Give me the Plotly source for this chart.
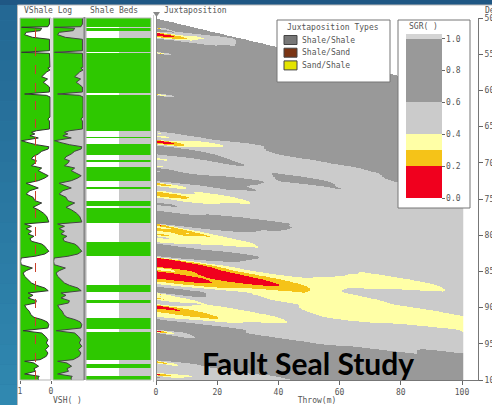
import numpy as np
import plotly.graph_objects as go

W, H = 492, 405

# ---- well log: depth (m) and shale volume fraction ----
depth = [500.0, 508.3, 512.0, 512.8, 514.2, 517.5, 519.8, 523.1, 526.7, 529.4,
         545.2, 547.4, 548.8, 567.7, 569.1, 571.8, 574.6, 581.1, 584.3, 588.8,
         592.1, 595.3, 602.2, 605.0, 606.8, 609.1, 636.7, 639.5, 642.3, 653.3,
         655.7, 657.9, 660.2, 662.6, 665.7, 669.5, 672.2, 675.0, 677.8, 680.9,
         684.1, 687.8, 691.6, 694.7, 697.1, 700.7, 704.0, 707.2, 710.9, 714.5,
         717.8, 721.0, 724.7, 728.3, 731.6, 734.8, 738.5, 743.1, 747.6, 752.3,
         755.5, 758.7, 761.5, 764.8, 769.3, 773.9, 778.6, 781.8, 784.5, 787.7,
         791.0, 794.6, 798.3, 801.5, 804.8, 808.4, 812.2, 815.3, 818.6, 822.2,
         826.0, 829.1, 831.5, 836.0, 840.7, 845.3, 849.0, 852.2, 856.8, 861.5,
         866.0, 869.2, 872.9, 876.7, 879.8, 883.0, 886.7, 890.5, 893.6, 896.8,
         900.5, 905.1, 909.8, 913.4, 916.7, 919.9, 923.6, 928.2, 931.9, 935.1,
         939.6, 944.3, 948.9, 953.4, 958.1, 962.7, 967.2, 971.9, 974.1, 976.5,
         981.0, 984.4, 988.0, 991.7, 994.9, 997.2, 1000.0]
vsh = [0.95, 0.95, 0.90, 0.05, 0.70, 0.65, 0.20, 0.15, 0.40, 0.95,
       0.95, 0.05, 0.95, 0.97, 0.90, 0.97, 0.86, 0.70, 0.89, 0.75,
       0.86, 0.95, 0.95, 0.15, 0.85, 0.97, 0.97, 0.90, 0.95, 0.95,
       0.53, 0.37, 0.48, 0.32, 0.59, 0.05, 0.26, 0.53, 0.93, 0.91,
       0.70, 0.59, 0.42, 0.37, 0.53, 0.48, 0.37, 0.70, 0.59, 0.75,
       0.91, 0.80, 0.59, 0.20, 0.42, 0.59, 0.32, 0.20, 0.42, 0.48,
       0.70, 0.53, 0.42, 0.59, 0.75, 0.86, 0.91, 0.93, 0.15, 0.37,
       0.20, 0.37, 0.26, 0.45, 0.32, 0.37, 0.70, 0.80, 0.86, 0.93,
       0.80, 0.48, 0.04, 0.02, 0.04, 0.40, 0.20, 0.10, 0.15, 0.26,
       0.37, 0.53, 0.80, 0.91, 0.26, 0.42, 0.26, 0.53, 0.50, 0.15,
       0.20, 0.30, 0.35, 0.45, 0.72, 0.88, 0.93, 0.90, 0.10, 0.70,
       0.82, 0.90, 0.85, 0.93, 0.82, 0.90, 0.85, 0.65, 0.15, 0.45,
       0.60, 0.45, 0.50, 0.15, 0.62, 0.58, 0.60]

vsh_cutoff = 0.5
throw_max = 100.0

# SGR classes shown in the colour bar (last band sits just above 1.0)
sgr_bounds = [0.0, 0.2, 0.3, 0.4, 0.6, 1.0, 1.03]
sgr_colors = ['#f0001e', '#f5c318', '#ffffa6', '#cbcbcb', '#999999', '#d4d4d4']
sgr_ticks = [0.0, 0.2, 0.4, 0.6, 0.8, 1.0]

juxt_types = ['Shale/Shale', 'Shale/Sand', 'Sand/Shale']
juxt_colors = ['#777777', '#7a3414', '#e4e400']

depth_ticks = list(range(500, 1001, 50))
throw_ticks = [0, 20, 40, 60, 80, 100]

GREEN = '#2ec800'
MONO = 'DejaVu Sans Mono'
TXT = '#555555'


def px(x):
    return x / W


def py(y):
    return 1 - y / H


# ---- shale gouge ratio: mean Vsh over the throw window above each fault depth ----
depth_a = np.array(depth)
vsh_a = np.array(vsh)
dz = 0.25
zf = np.arange(depth_a[0], depth_a[-1] + dz / 2, dz)
vf = np.interp(zf, depth_a, vsh_a)
cum = np.concatenate([[0.0], np.cumsum((vf[1:] + vf[:-1]) / 2 * dz)])

z_rows = np.linspace(depth_a[0], depth_a[-1], 363)
throws = np.arange(0.0, throw_max + 0.01, 0.5)
Z, T = np.meshgrid(z_rows, throws, indexing='ij')
top = Z - T
with np.errstate(invalid='ignore', divide='ignore'):
    sgr = (np.interp(Z, zf, cum) - np.interp(top, zf, cum)) / T
sgr[:, 0] = np.interp(z_rows, zf, vf)
sgr[top < depth_a[0] - 1e-9] = np.nan

zmax = sgr_bounds[-1]
sgr_scale = []
for i, c in enumerate(sgr_colors):
    sgr_scale += [[sgr_bounds[i] / zmax, c], [sgr_bounds[i + 1] / zmax, c]]

# ---- shale beds: sand where Vsh drops under the cutoff ----
is_sand = vf < vsh_cutoff
beds = np.stack([np.where(is_sand, 1, 0), np.where(is_sand, 2, 0)], axis=1)

axfont = dict(family=MONO, size=8, color=TXT)

fig = go.Figure()

fig.add_trace(go.Heatmap(
    x=throws, y=z_rows, z=sgr, xaxis='x', yaxis='y',
    colorscale=sgr_scale, zmin=0, zmax=zmax, zsmooth=False,
    hoverongaps=False,
    colorbar=dict(
        tickvals=sgr_ticks, ticktext=[f'{v:.1f}' for v in sgr_ticks],
        ticks='outside', ticklen=3, tickcolor='#666', tickfont=axfont,
        thickness=36, thicknessmode='pixels',
        len=164, lenmode='pixels',
        x=px(406), xanchor='left', y=py(34), yanchor='top',
        xpad=0, ypad=0,
        bgcolor='rgba(0,0,0,0)', borderwidth=0, outlinewidth=0,
    ),
))

fig.add_trace(go.Scatter(
    x=[1 - v for v in vsh], y=depth, xaxis='x2', yaxis='y', mode='lines',
    line=dict(color='#333333', width=1), fill='tozerox', fillcolor='white',
    showlegend=False, hoverinfo='skip'))

fig.add_trace(go.Scatter(
    x=vsh, y=depth, xaxis='x3', yaxis='y', mode='lines',
    line=dict(color='#444444', width=1), fill='tozerox', fillcolor=GREEN,
    showlegend=False, hoverinfo='skip'))

fig.add_trace(go.Heatmap(
    x=[0, 1], y=zf, z=beds, xaxis='x4', yaxis='y',
    colorscale=[[0, GREEN], [0.5, 'white'], [1, '#c8c8c8']], zmin=0, zmax=2,
    showscale=False, zsmooth=False, hoverinfo='skip'))

ydom = [py(380), py(18)]

fig.update_layout(
    width=W, height=H, margin=dict(l=0, r=0, t=0, b=0, pad=0, autoexpand=False),
    paper_bgcolor='#2a78a2', plot_bgcolor='rgba(0,0,0,0)', showlegend=False,
    xaxis=dict(domain=[px(156), px(478)], range=[0, 105.23], anchor='y', automargin=False,
               tickvals=throw_ticks, ticks='outside', ticklen=4, tickcolor='#666',
               showline=True, linecolor='#777', linewidth=1, showgrid=False, zeroline=False,
               tickfont=axfont, title=dict(text='Throw(m)', font=axfont, standoff=2)),
    yaxis=dict(domain=ydom, range=[1000, 500], anchor='x', side='right', automargin=False,
               tickvals=depth_ticks, ticks='outside', ticklen=4, tickcolor='#666',
               showline=True, linecolor='#777', linewidth=1, showgrid=False, zeroline=False,
               tickfont=axfont),
    xaxis2=dict(domain=[px(20), px(51)], range=[1, 0], anchor='y', tickvals=[1, 0],
                automargin=False, ticks='outside', ticklen=3, tickcolor='#666', showline=False,
                showgrid=False, zeroline=False, tickfont=axfont),
    xaxis3=dict(domain=[px(53), px(84)], range=[0, 1], anchor='y', showticklabels=False,
                automargin=False, ticks='', showgrid=False, zeroline=False),
    xaxis4=dict(domain=[px(86), px(151)], range=[-0.5, 1.5], anchor='y', showticklabels=False,
                automargin=False, ticks='', showgrid=False, zeroline=False),
)

shapes = []
# backdrop: blue gradient strip and white panel
c0, c1 = np.array([36, 104, 148]), np.array([48, 136, 176])
for i in range(20):
    c = (c0 + (c1 - c0) * i / 19).astype(int)
    shapes.append(dict(type='rect', xref='paper', yref='paper', x0=0, x1=1,
                       y0=py(405 * (i + 1) / 20), y1=py(405 * i / 20),
                       fillcolor=f'rgb({c[0]},{c[1]},{c[2]})', line=dict(width=0), layer='below'))
shapes.append(dict(type='rect', xref='paper', yref='paper', x0=0, x1=1, y0=py(5), y1=1,
                   fillcolor='#1f5784', line=dict(width=0), layer='below'))
shapes.append(dict(type='rect', xref='paper', yref='paper', x0=px(17.5), x1=1.01, y0=-0.01, y1=py(5),
                   fillcolor='white', line=dict(color='#bbbbbb', width=1), layer='below'))
# track backgrounds
shapes.append(dict(type='rect', xref='x2 domain', yref='y domain', x0=0, x1=1, y0=0, y1=1,
                   fillcolor=GREEN, line=dict(width=0), layer='below'))
shapes.append(dict(type='rect', xref='x3 domain', yref='y domain', x0=0, x1=1, y0=0, y1=1,
                   fillcolor='#c6c6c6', line=dict(width=0), layer='below'))
# cutoff line on the Vsh track
shapes.append(dict(type='line', xref='x2', yref='y domain', x0=1 - vsh_cutoff, x1=1 - vsh_cutoff,
                   y0=0, y1=1, line=dict(color='#c8402a', width=1, dash='dash'), layer='above'))
# track frames
for ax in ['x2', 'x3', 'x4']:
    shapes.append(dict(type='rect', xref=f'{ax} domain', yref='y domain', x0=0, x1=1, y0=0, y1=1,
                       line=dict(color='#b4b4b4', width=1), layer='above'))
shapes.append(dict(type='line', xref='paper', yref='paper', x0=px(84.5), x1=px(84.5),
                   y0=py(380), y1=py(17), line=dict(color='#888888', width=2), layer='above'))
shapes.append(dict(type='line', xref='paper', yref='paper', x0=px(153.5), x1=px(153.5),
                   y0=py(382), y1=py(15), line=dict(color='#cccccc', width=1), layer='above'))
shapes.append(dict(type='line', xref='paper', yref='paper', x0=px(156.5), x1=px(156.5),
                   y0=py(380), y1=py(15), line=dict(color='#888888', width=1), layer='above'))
shapes.append(dict(type='path', xref='paper', yref='paper',
                   path=f'M {px(153)},{py(12)} L {px(160)},{py(12)} L {px(156.5)},{py(17)} Z',
                   fillcolor='#888888', line=dict(width=0), layer='above'))
# colour-bar frame
shapes.append(dict(type='rect', xref='paper', yref='paper', x0=px(398), x1=px(470),
                   y0=py(208), y1=py(20), fillcolor='white', line=dict(color='#777', width=1),
                   layer='above'))

# juxtaposition-type key
lx0, ly0, lx1, ly1 = 277, 20, 390, 82
shapes.append(dict(type='rect', xref='paper', yref='paper', x0=px(lx0), x1=px(lx1),
                   y0=py(ly1), y1=py(ly0), fillcolor='white', line=dict(color='#777', width=1),
                   layer='above'))
annotations = [dict(text='Juxtaposition Types', x=px(285), y=py(28), xref='paper', yref='paper',
                    xanchor='left', yanchor='middle', showarrow=False, font=axfont)]
for i, (name, col) in enumerate(zip(juxt_types, juxt_colors)):
    yc = 40 + 12.7 * i
    shapes.append(dict(type='rect', xref='paper', yref='paper', x0=px(284), x1=px(297),
                       y0=py(yc + 4.5), y1=py(yc - 4.5), fillcolor=col,
                       line=dict(color='#444', width=1), layer='above'))
    annotations.append(dict(text=name, x=px(300), y=py(yc), xref='paper', yref='paper',
                            xanchor='left', yanchor='middle', showarrow=False, font=axfont))

annotations.append(dict(text='SGR( )', x=px(407), y=py(27), xref='paper', yref='paper',
                        xanchor='left', yanchor='middle', showarrow=False, font=axfont))
for text, x in [('VShale Log', 22), ('Shale Beds', 88), ('Juxtaposition', 162), ('Depth(m)', 483)]:
    annotations.append(dict(text=text, x=px(x), y=py(10), xref='paper', yref='paper',
                            xanchor='left', yanchor='middle', showarrow=False, font=axfont))
annotations.append(dict(text='VSH( )', x=px(67), y=py(400), xref='paper', yref='paper',
                        xanchor='center', yanchor='middle', showarrow=False, font=axfont))
annotations.append(dict(text='Fault Seal Study', x=px(308), y=py(362.5), xref='paper', yref='paper',
                        xanchor='center', yanchor='middle', showarrow=False,
                        font=dict(family='Lato', size=30, color='black', weight='bold')))

fig.update_layout(shapes=shapes, annotations=annotations)
fig.write_html('out.html')
